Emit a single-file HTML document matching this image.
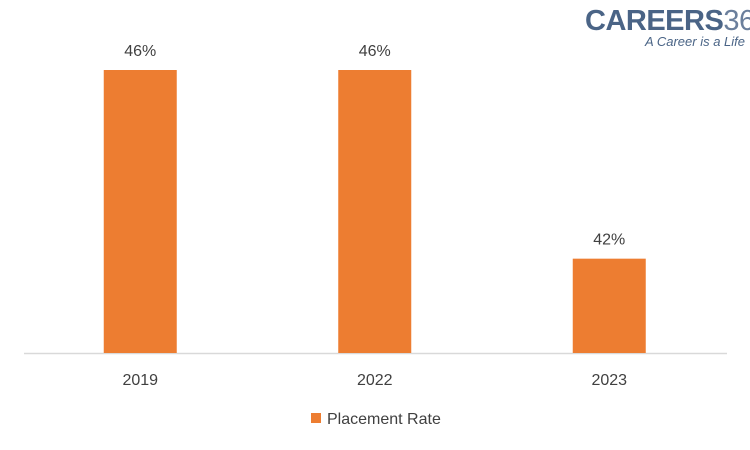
<!DOCTYPE html>
<html><head><meta charset="utf-8"><style>
body{margin:0;background:#fff;}
svg{display:block;font-family:"Liberation Sans",Calibri,sans-serif;}
</style></head><body>
<svg width="750" height="450" viewBox="0 0 750 450">
<g>
<text x="585" y="30" font-size="29" font-weight="bold" fill="#4a6486" letter-spacing="-0.5">CAREERS<tspan font-weight="normal" fill="#6b7f9c">360</tspan></text>
<text x="745" y="46" font-size="13" font-style="italic" fill="#4a6486" text-anchor="end">A Career is a Life</text>
</g>
<line x1="24" y1="353.5" x2="727" y2="353.5" stroke="#d9d9d9" stroke-width="1.5"/>
<g id="bars"></g>
<g>
<rect x="311" y="413" width="10" height="10" fill="#ed7d31"/>
<text x="327" y="424" font-size="16" fill="#404040">Placement Rate</text>
</g>
</svg>
<script>
const categories = ["2019","2022","2023"];
const values = [46,46,42];
const valueLabels = ["46%","46%","42%"];
const yMin = 40, yMax = 46;
const baseY = 353, topY = 70;
const x0 = 23, catW = 234.5, barW = 73;
function yScale(v){return baseY - (v - yMin) / (yMax - yMin) * (baseY - topY);}
function xCenter(i){return x0 + catW * (i + 0.5);}
const g = document.getElementById('bars');
const ns = 'http://www.w3.org/2000/svg';
categories.forEach((c,i)=>{
  const r = document.createElementNS(ns,'rect');
  r.setAttribute('x', xCenter(i) - barW/2);
  r.setAttribute('y', yScale(values[i]));
  r.setAttribute('width', barW);
  r.setAttribute('height', baseY - yScale(values[i]));
  r.setAttribute('fill', '#ed7d31');
  
  
  g.appendChild(r);
  const t = document.createElementNS(ns,'text');
  t.setAttribute('x', xCenter(i));
  t.setAttribute('y', yScale(values[i]) - 14);
  t.setAttribute('text-anchor','middle');
  t.setAttribute('font-size','16');
  t.setAttribute('fill','#404040');
  t.textContent = valueLabels[i];
  
  
  g.appendChild(t);
  const l = document.createElementNS(ns,'text');
  l.setAttribute('x', xCenter(i));
  l.setAttribute('y', 385);
  l.setAttribute('text-anchor','middle');
  l.setAttribute('font-size','16');
  l.setAttribute('fill','#404040');
  l.textContent = c;
  
  
  g.appendChild(l);
});
</script>
</body></html>
